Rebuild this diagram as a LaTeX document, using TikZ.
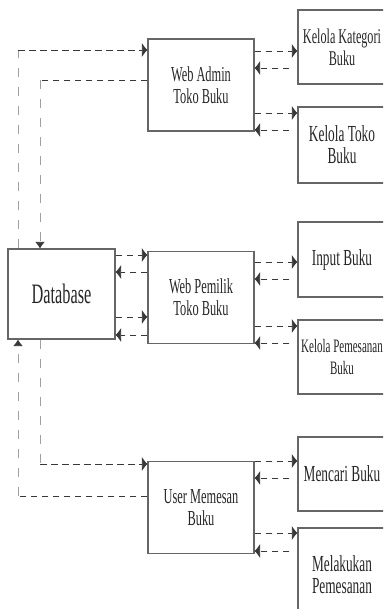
\documentclass[tikz,border=0pt]{standalone}
\usepackage{fontspec}
\setmainfont{Liberation Serif}[FakeStretch=0.58]
\usetikzlibrary{arrows.meta}
\definecolor{boxgray}{HTML}{666666}
\definecolor{textgray}{HTML}{262626}
\definecolor{linedark}{HTML}{383838}
\definecolor{linelight}{HTML}{A0A0A0}
\begin{document}
\begin{tikzpicture}[
        x=0.03cm, y=-0.03cm,
        every node/.style={draw=boxgray, line width=0.9pt, rectangle, align=center, text=textgray, inner sep=1pt},
        box_main/.style={minimum width=3.18cm, minimum height=2.74cm, font=\fontsize{18.2}{19}\selectfont},
        box_sub/.style={minimum width=2.64cm, font=\fontsize{19.6}{19}\selectfont},
        box_db/.style={minimum width=3.21cm, minimum height=2.7cm, font=\fontsize{24}{24}\selectfont},
        dash_h/.style={draw=linedark, line width=0.8pt, dash pattern=on 0.2cm off 0.13cm},
        dash_v/.style={draw=linelight, line width=0.8pt, dash pattern=on 0.27cm off 0.3cm},
        flow_h/.style={dash_h, -{Latex[length=0.17cm, width=0.45cm]}},
        flow_v/.style={dash_v, -{Latex[length=0.2cm, width=0.3cm, color=linedark]}}
        ]
    \useasboundingbox (0,0) rectangle (383,609);
    \clip (0,0) rectangle (383,609);

    \node[box_db] (db) at (61.5,294) {\raisebox{-2pt}{Database}};

    \node[box_main, minimum height=2.76cm] (admin) at (201,85) {Web Admin\\Toko Buku};
    \node[box_main] (pemilik) at (201,297.5) {Web Pemilik\\Toko Buku};
    \node[box_main] (user) at (201,507.5) {User Memesan\\Buku};

    \node[box_sub, minimum height=2.22cm, font=\fontsize{17.9}{19}\selectfont] (kat) at (342,47) {Kelola Kategori\\Buku};
    \node[box_sub, minimum height=2.28cm] (toko) at (342,145) {Kelola Toko\\Buku};
    \node[box_sub, minimum height=2.25cm] (input) at (342,259.5) {Input Buku};
    \node[box_sub, minimum height=2.22cm, font=\fontsize{16.2}{18}\selectfont] (pesan) at (342,357) {Kelola Pemesanan\\Buku};
    \node[box_sub, minimum height=2.22cm] (cari) at (342,474) {Mencari Buku};
    \node[box_sub, minimum height=2.82cm] (lakukan) at (342,575) {Melakukan\\Pemesanan};

    \coordinate (c_db_admin) at (18,50);
    \coordinate (c_admin_db) at (40,80);
    \coordinate (c_user_db) at (18,496);
    \coordinate (c_db_user) at (40,464);

    \draw[dash_v] (db.north -| c_db_admin) -- (c_db_admin);
    \draw[flow_h] (c_db_admin) -- (admin.west |- c_db_admin);
    \draw[dash_h] (admin.west |- c_admin_db) -- (c_admin_db);
    \draw[flow_v] (c_admin_db) -- (db.north -| c_admin_db);
    \draw[dash_h] (user.west |- c_user_db) -- (c_user_db);
    \draw[flow_v] (c_user_db) -- (db.south -| c_user_db);
    \draw[dash_v] (db.south -| c_db_user) -- (c_db_user);
    \draw[flow_h] (c_db_user) -- (user.west |- c_db_user);

    \foreach \yo/\yb in {255/272, 317/335}{
        \draw[flow_h] (db.east |- 0,\yo) -- (pemilik.west |- 0,\yo);
        \draw[flow_h] (pemilik.west |- 0,\yb) -- (db.east |- 0,\yb);
    }

    \foreach \m/\s/\yo/\yb in {admin/kat/51/68, admin/toko/113/130, pemilik/input/262/279,
            pemilik/pesan/326/343, user/cari/461/478, user/lakukan/533/551}{
        \draw[flow_h] (\m.east |- 0,\yo) -- (\s.west |- 0,\yo);
        \draw[flow_h, shorten <=0.24cm] (\s.west |- 0,\yb) -- (\m.east |- 0,\yb);
    }
\end{tikzpicture}
\end{document}
